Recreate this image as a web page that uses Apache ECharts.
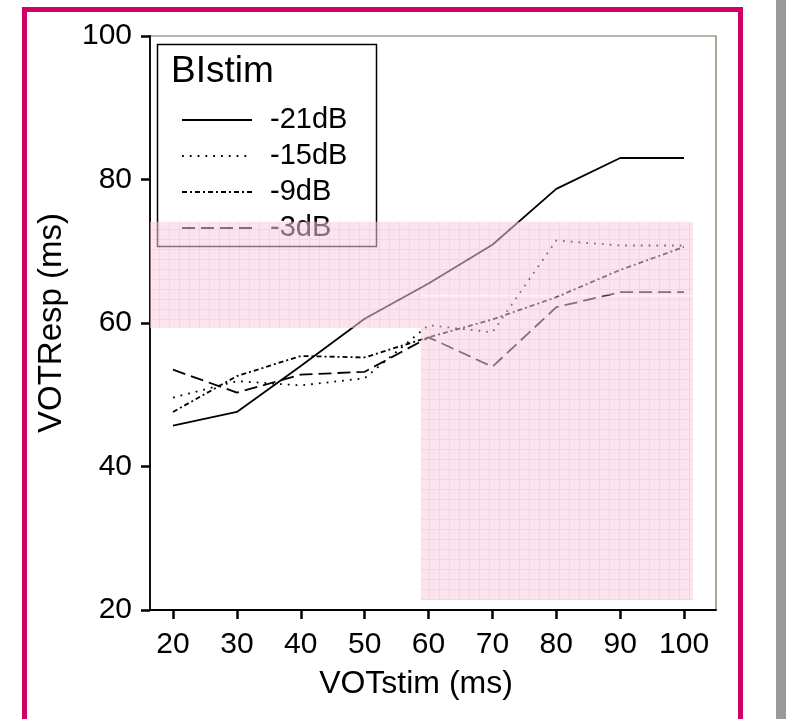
<!DOCTYPE html>
<html>
<head>
<meta charset="utf-8">
<script src="https://cdn.jsdelivr.net/npm/echarts@6.0.0/dist/echarts.min.js"></script>
<style>
html,body{margin:0;padding:0;background:#fff;}
#chart{width:788px;height:719px;}
</style>
</head>
<body>
<div id="chart"></div>
<script>
// ---- data ----
var votStim = [20, 30, 40, 50, 60, 70, 80, 90, 100];
var resp21 = [45.7, 47.6, 54.0, 60.6, 65.5, 70.9, 78.7, 83.0, 83.0];
var resp15 = [49.6, 51.9, 51.3, 52.3, 59.7, 58.7, 71.5, 70.8, 70.8];
var resp9  = [47.6, 52.6, 55.4, 55.2, 58.0, 60.5, 63.6, 67.4, 70.6];
var resp3  = [53.5, 50.3, 52.8, 53.2, 58.0, 53.9, 62.2, 64.3, 64.3];
var seriesNames = ['-21dB', '-15dB', '-9dB', '-3dB'];
var xTicks = [20, 30, 40, 50, 60, 70, 80, 90, 100];
var yTicks = [20, 40, 60, 80, 100];
// highlighted (pink) regions, in data units
var bandX = [16.4, 58.8], bandY = [59.3, 74.1];
var colX = [58.8, 101.4], colUpperY = [63.85, 74.1], colLowerY = [21.4, 63.72];

function pairs(xs, ys) { return xs.map(function (x, i) { return [x, ys[i]]; }); }

// pink grid pattern
var pat = document.createElement('canvas');
pat.width = 10; pat.height = 10;
var pc = pat.getContext('2d');
pc.fillStyle = 'rgb(251,205,224)';
pc.fillRect(0, 0, 10, 10);
pc.fillStyle = 'rgb(245,175,202)';
pc.fillRect(9, 0, 1, 10);
pc.fillRect(0, 9, 10, 1);

var FONT = "'Liberation Sans', Arial, sans-serif";
var chart = echarts.init(document.getElementById('chart'), null, {renderer: 'canvas'});

function lineSeries(name, ys, type) {
  return {
    name: name, type: 'line', data: pairs(votStim, ys),
    symbol: 'none', showSymbol: false, smooth: false, z: 2,
    lineStyle: {color: '#000', width: 1.8, type: type, cap: 'butt'},
    itemStyle: {color: '#000'},
    emphasis: {disabled: true}, animation: false
  };
}

var option = {
  animation: false,
  backgroundColor: '#fff',
  grid: {left: 150, top: 36, width: 566, height: 574, show: true,
         borderColor: '#6e6e58', borderWidth: 1.2, backgroundColor: 'transparent'},
  xAxis: {
    type: 'value', min: 16.4, max: 105,
    axisLine: {show: true, onZero: false, lineStyle: {color: '#000', width: 1.8}},
    axisTick: {show: true, customValues: xTicks, length: 9, lineStyle: {color: '#000', width: 2.5}},
    axisLabel: {customValues: xTicks, fontSize: 30, color: '#000', fontFamily: FONT, margin: 20},
    splitLine: {show: false},
    name: 'VOTstim (ms)', nameLocation: 'middle', nameGap: 58,
    nameTextStyle: {fontSize: 32, color: '#000', fontFamily: FONT, padding: [0, 34, 0, 0]}
  },
  yAxis: {
    type: 'value', min: 20, max: 100, interval: 20,
    axisLine: {show: true, onZero: false, lineStyle: {color: '#000', width: 1.8}},
    axisTick: {show: true, length: 9, lineStyle: {color: '#000', width: 2.5}},
    axisLabel: {fontSize: 30, color: '#000', fontFamily: FONT, margin: 18,
                customValues: yTicks},
    splitLine: {show: false},
    name: 'VOTResp (ms)', nameLocation: 'middle', nameGap: 82, nameRotate: 90,
    nameTextStyle: {fontSize: 33, color: '#000', fontFamily: FONT}
  },
  legend: {
    data: seriesNames, orient: 'vertical', left: 176, top: 100, z: 4,
    itemWidth: 70, itemHeight: 14, itemGap: 6, selectedMode: false,
    itemStyle: {opacity: 0, borderWidth: 0},
    textStyle: {fontSize: 29, color: '#000', fontFamily: FONT, lineHeight: 30, padding: [0, 0, 0, 13]}
  },
  graphic: [
    {type: 'rect', z: 3, shape: {x: 157.5, y: 44.5, width: 219, height: 202},
     style: {fill: '#fff', stroke: '#000', lineWidth: 1.5}},
    {type: 'text', z: 4, x: 171, y: 53,
     style: {text: 'BIstim', font: "37px 'Liberation Sans', Arial, sans-serif", fill: '#000'}},
    {type: 'rect', z: 20, shape: {x: 24.5, y: 9.5, width: 716, height: 730},
     style: {fill: 'none', stroke: '#cc0066', lineWidth: 5}},
    {type: 'rect', z: 20, shape: {x: 776, y: 0, width: 10, height: 719},
     style: {fill: '#9a9a9a'}}
  ],
  series: [
    lineSeries(seriesNames[0], resp21, 'solid'),
    lineSeries(seriesNames[1], resp15, [1.8, 6]),
    lineSeries(seriesNames[2], resp9, [5, 3, 2, 3]),
    lineSeries(seriesNames[3], resp3, [13, 6]),
    {
      name: 'highlight', type: 'line', data: [], z: 10, silent: true,
      markArea: {
        silent: true, z: 10,
        itemStyle: {color: {image: pat, repeat: 'repeat'}, opacity: 0.55, borderWidth: 0},
        label: {show: false},
        data: [
          [{coord: [bandX[0], bandY[1]]}, {coord: [bandX[1], bandY[0]]}],
          [{coord: [colX[0], colUpperY[1]]}, {coord: [colX[1], colUpperY[0]]}],
          [{coord: [colX[0], colLowerY[1]]}, {coord: [colX[1], colLowerY[0]]}]
        ]
      }
    }
  ]
};
chart.setOption(option);
</script>
</body>
</html>
